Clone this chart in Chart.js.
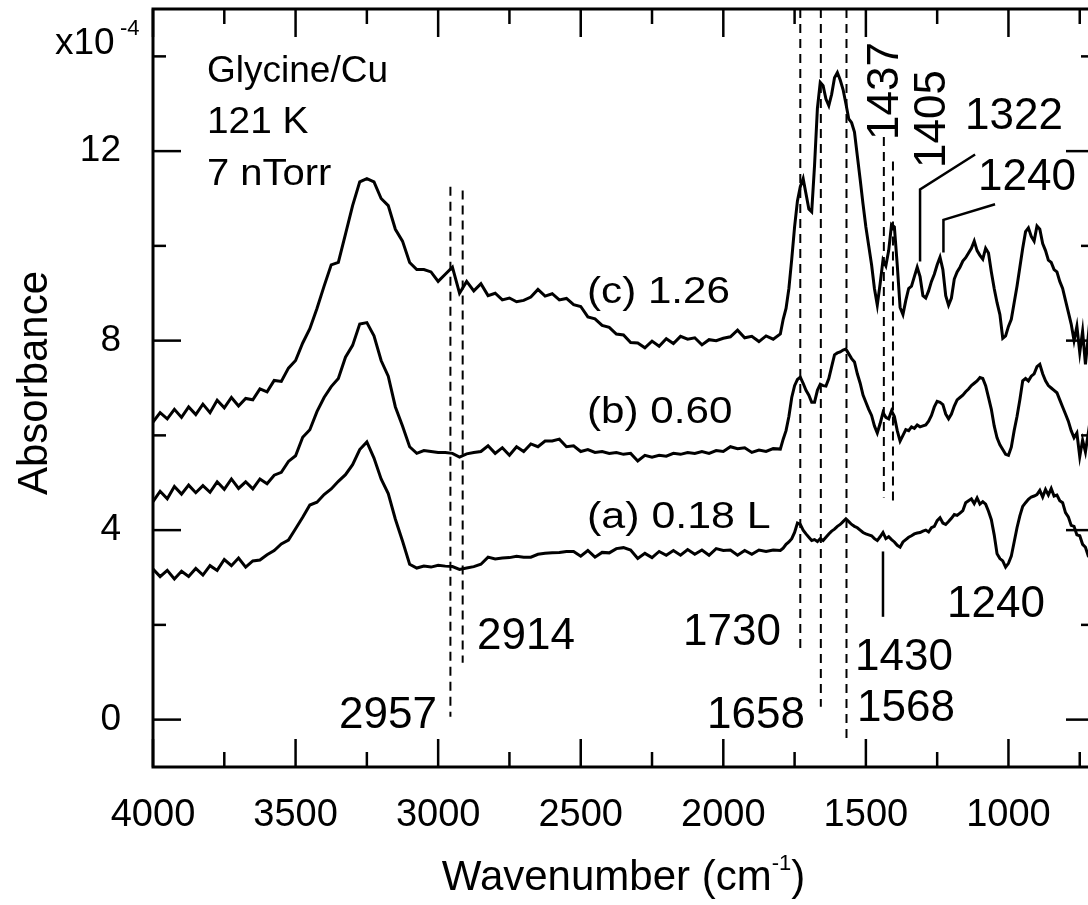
<!DOCTYPE html>
<html>
<head>
<meta charset="utf-8">
<script src="https://cdn.jsdelivr.net/npm/chart.js@4.4.1/dist/chart.umd.min.js"></script>
<style>
html, body { margin: 0; padding: 0; background: #fff; overflow: hidden; }
#wrap { width: 1100px; height: 905px; }
</style>
</head>
<body>
<div id="wrap"><canvas id="spectra" width="1100" height="905"></canvas></div>
<script>
const FONT = '"Liberation Sans", Arial, Helvetica, sans-serif';

// wavenumber grid (cm-1): 25 steps down to 1800, then 10 steps to 700
const wavenumbers = [
  4000,3975,3950,3925,3900,3875,3850,3825,3800,3775,
  3750,3725,3700,3675,3650,3625,3600,3575,3550,3525,
  3500,3475,3450,3425,3400,3375,3350,3325,3300,3275,
  3250,3225,3200,3175,3150,3125,3100,3075,3050,3025,
  3000,2975,2950,2925,2900,2875,2850,2825,2800,2775,
  2750,2725,2700,2675,2650,2625,2600,2575,2550,2525,
  2500,2475,2450,2425,2400,2375,2350,2325,2300,2275,
  2250,2225,2200,2175,2150,2125,2100,2075,2050,2025,
  2000,1975,1950,1925,1900,1875,1850,1825,1800,
  1790,1780,1770,1760,1750,1740,1730,1720,1710,1700,
  1690,1680,1670,1660,1650,1640,1630,1620,1610,1600,
  1590,1580,1570,1560,1550,1540,1530,1520,1510,1500,
  1490,1480,1470,1460,1450,1440,1430,1420,1410,1400,
  1390,1380,1370,1360,1350,1340,1330,1320,1310,1300,
  1290,1280,1270,1260,1250,1240,1230,1220,1210,1200,
  1190,1180,1170,1160,1150,1140,1130,1120,1110,1100,
  1090,1080,1070,1060,1050,1040,1030,1020,1010,1000,
  990,980,970,960,950,940,930,920,910,900,
  890,880,870,860,850,840,830,820,810,800,
  790,780,770,760,750,740,730,720,710,700
];

// (a) 0.18 L, absorbance x10^-4
const spectrumA = [
  3.18,3.02,3.15,2.97,3.13,3.02,3.19,3.05,3.25,3.15,
  3.38,3.25,3.41,3.22,3.35,3.37,3.48,3.57,3.71,3.79,
  4.03,4.27,4.53,4.59,4.75,4.87,5.03,5.17,5.38,5.70,
  5.86,5.52,5.08,4.77,4.23,3.77,3.28,3.20,3.24,3.22,
  3.26,3.24,3.23,3.17,3.20,3.23,3.28,3.43,3.39,3.41,
  3.42,3.45,3.43,3.43,3.49,3.51,3.52,3.53,3.55,3.55,
  3.45,3.57,3.43,3.53,3.52,3.61,3.63,3.58,3.40,3.51,
  3.42,3.55,3.47,3.57,3.47,3.59,3.49,3.58,3.47,3.61,
  3.57,3.58,3.47,3.57,3.49,3.58,3.55,3.58,3.57,
  3.62,3.70,3.75,3.82,3.95,4.15,4.12,4.00,3.92,3.85,
  3.78,3.80,3.76,3.82,3.78,3.85,3.92,3.98,4.02,4.08,
  4.12,4.18,4.24,4.18,4.12,4.08,4.05,4.00,3.95,3.92,
  3.90,3.88,3.82,3.78,3.86,3.95,3.82,3.86,3.80,3.75,
  3.68,3.64,3.75,3.80,3.85,3.88,3.92,3.94,3.95,3.98,
  4.00,3.96,4.05,4.08,4.20,4.26,4.15,4.12,4.18,4.25,
  4.33,4.31,4.36,4.41,4.58,4.62,4.66,4.56,4.68,4.55,
  4.60,4.55,4.40,4.22,3.90,3.50,3.40,3.35,3.22,3.30,
  3.45,3.75,4.05,4.30,4.50,4.58,4.65,4.70,4.72,4.75,
  4.84,4.70,4.86,4.74,4.88,4.72,4.74,4.62,4.58,4.37,
  4.28,4.10,4.08,3.90,3.88,3.70,3.64,3.45,3.43,3.32
];

// (b) 0.60
const spectrumB = [
  4.60,4.82,4.66,4.92,4.76,4.95,4.79,4.94,4.80,5.02,
  4.86,5.08,4.88,5.02,4.87,5.08,4.98,5.16,5.22,5.45,
  5.57,5.96,6.12,6.50,6.80,7.03,7.20,7.65,7.90,8.35,
  8.38,8.10,7.58,7.25,6.60,6.20,5.76,5.62,5.68,5.66,
  5.64,5.64,5.62,5.54,5.61,5.64,5.66,5.78,5.62,5.74,
  5.58,5.76,5.66,5.82,5.76,5.88,5.88,5.92,5.76,5.78,
  5.66,5.70,5.64,5.66,5.62,5.64,5.60,5.62,5.46,5.58,
  5.54,5.58,5.56,5.62,5.60,5.64,5.62,5.66,5.62,5.68,
  5.66,5.76,5.72,5.74,5.64,5.69,5.66,5.72,5.71,
  5.92,6.10,6.40,6.80,7.05,7.18,7.23,7.10,6.95,6.85,
  6.70,6.70,6.95,7.08,7.05,7.04,7.20,7.45,7.70,7.74,
  7.76,7.80,7.82,7.72,7.62,7.55,7.30,7.10,6.85,6.70,
  6.55,6.42,6.20,6.05,6.25,6.48,6.38,6.35,6.52,6.40,
  6.10,5.88,6.00,6.12,6.10,6.18,6.15,6.22,6.18,6.20,
  6.22,6.30,6.42,6.60,6.72,6.70,6.65,6.45,6.35,6.45,
  6.62,6.75,6.80,6.85,6.92,6.98,7.05,7.10,7.15,7.22,
  7.20,7.05,6.80,6.55,6.20,5.95,5.80,5.70,5.60,5.58,
  5.75,6.10,6.40,6.75,7.15,7.20,7.15,7.25,7.30,7.45,
  7.50,7.30,7.15,7.05,7.00,6.95,6.90,6.75,6.60,6.45,
  6.30,6.10,5.95,6.05,5.55,5.90,5.65,6.05,5.70,5.85
];

// (c) 1.26
const spectrumC = [
  6.28,6.48,6.35,6.55,6.38,6.60,6.44,6.66,6.48,6.74,
  6.58,6.80,6.62,6.78,6.75,6.98,6.92,7.16,7.14,7.42,
  7.58,7.95,8.25,8.68,9.15,9.60,9.65,10.25,10.85,11.35,
  11.42,11.35,11.00,10.85,10.35,10.10,9.65,9.50,9.50,9.45,
  9.25,9.40,9.55,9.00,9.25,9.05,9.20,8.95,9.00,8.86,
  8.90,8.82,8.85,8.92,9.08,8.94,8.99,8.86,8.89,8.76,
  8.72,8.50,8.46,8.32,8.28,8.14,8.12,7.96,7.95,7.85,
  7.99,7.88,8.04,7.94,8.09,8.03,8.06,7.91,8.02,8.00,
  8.05,8.08,8.22,8.06,8.09,7.98,8.10,8.03,8.14,
  8.45,8.68,9.10,9.72,10.40,10.95,11.25,11.42,11.10,10.78,
  10.72,11.70,12.90,13.45,13.38,13.10,12.96,13.20,13.55,13.66,
  13.50,13.30,13.00,12.68,12.60,12.40,11.90,11.40,10.88,10.40,
  10.00,9.60,9.10,8.75,9.20,9.70,9.58,9.90,10.45,10.40,
  9.60,8.70,8.55,8.85,9.10,9.15,9.35,9.55,9.35,8.95,
  8.90,9.05,9.25,9.40,9.60,9.76,9.50,8.95,8.75,8.90,
  9.30,9.45,9.55,9.68,9.75,9.85,9.95,10.10,9.90,9.80,
  9.72,9.95,9.85,9.45,9.10,8.80,8.55,8.05,8.10,8.30,
  8.45,8.80,9.15,9.55,9.95,10.30,10.38,10.20,10.10,10.42,
  10.35,10.05,9.90,9.70,9.65,9.50,9.45,9.25,9.10,8.85,
  8.60,8.35,8.00,8.30,7.75,8.20,7.50,8.10,7.60,7.90
];

const xLabelTicks = [4000, 3500, 3000, 2500, 2000, 1500, 1000];
const xMinorTicks = [3750, 3250, 2750, 2250, 1750, 1250, 750];
const yLabelTicks = [0, 4, 8, 12];
const yMinorTicks = [2, 6, 10, 14];

function toPoints(values) {
  return values.map((v, i) => ({ x: wavenumbers[i], y: v }));
}

// stretch > 1 widens the text horizontally
function drawText(ctx, str, x, y, size, align, rot, stretch) {
  ctx.save();
  ctx.translate(x, y);
  if (rot) ctx.rotate(rot);
  if (stretch) ctx.scale(stretch, 1);
  ctx.font = size + 'px ' + FONT;
  ctx.textAlign = align || 'left';
  ctx.textBaseline = 'alphabetic';
  ctx.fillText(str, 0, 0);
  ctx.restore();
}

const annotate = {
  id: 'annotate',
  afterDraw(chart) {
    const { ctx, chartArea: a, scales } = chart;
    const px = v => scales.x.getPixelForValue(v);
    const py = v => scales.y.getPixelForValue(v);
    const line = pts => {
      ctx.beginPath();
      pts.forEach((p, i) => i ? ctx.lineTo(p[0], p[1]) : ctx.moveTo(p[0], p[1]));
      ctx.stroke();
    };
    ctx.save();
    ctx.strokeStyle = '#000';
    ctx.fillStyle = '#000';
    ctx.lineCap = 'butt';

    // box
    ctx.lineWidth = 3;
    ctx.strokeRect(a.left, a.top, a.right - a.left, a.bottom - a.top);

    // inward ticks on all four sides
    ctx.lineWidth = 2.5;
    xLabelTicks.forEach(v => { const p = px(v); line([[p, a.bottom], [p, a.bottom - 28]]); line([[p, a.top], [p, a.top + 28]]); });
    xMinorTicks.forEach(v => { const p = px(v); line([[p, a.bottom], [p, a.bottom - 15]]); line([[p, a.top], [p, a.top + 15]]); });
    yLabelTicks.forEach(v => { const p = py(v); line([[a.left, p], [a.left + 28, p]]); line([[a.right, p], [a.right - 28, p]]); });
    yMinorTicks.forEach(v => { const p = py(v); line([[a.left, p], [a.left + 13, p]]); line([[a.right, p], [a.right - 13, p]]); });

    // dashed peak markers
    ctx.lineWidth = 2;
    ctx.setLineDash([9, 6]);
    [[2957, 11.25, 0.06], [2914, 11.17, 1.2], [1730, 15, 1.5], [1658, 15, 0.27],
     [1568, 15, -0.46], [1437, 12.3, 4.69], [1405, 11.78, 4.52]]
      .forEach(m => line([[px(m[0]), py(m[1])], [px(m[0]), py(m[2])]]));
    ctx.setLineDash([]);

    // solid leader lines
    ctx.lineWidth = 2.5;
    line([[px(1440), py(3.55)], [px(1440), py(2.17)]]);
    line([[px(1310), py(9.67)], [px(1310), py(11.19)], [px(1117), py(11.93)]]);
    line([[px(1228), py(9.86)], [px(1228), py(10.55)], [px(1047), py(10.88)]]);

    // text
    drawText(ctx, 'Glycine/Cu', 207, 82, 37);
    drawText(ctx, '121 K', 207, 133, 37, 'left', 0, 1.05);
    drawText(ctx, '7 nTorr', 207, 185, 37, 'left', 0, 1.08);
    drawText(ctx, '(c) 1.26', 587, 303, 37, 'left', 0, 1.14);
    drawText(ctx, '(b) 0.60', 587, 423, 37, 'left', 0, 1.14);
    drawText(ctx, '(a) 0.18 L', 587, 528, 37, 'left', 0, 1.16);
    drawText(ctx, '2957', 437, 728, 44, 'right');
    drawText(ctx, '2914', 477, 649, 44);
    drawText(ctx, '1730', 683, 645, 44);
    drawText(ctx, '1658', 707, 728, 44);
    drawText(ctx, '1430', 855, 670, 44);
    drawText(ctx, '1568', 857, 721, 44);
    drawText(ctx, '1240', 947, 617, 44);
    drawText(ctx, '1322', 965, 129, 44);
    drawText(ctx, '1240', 978, 190, 44);
    drawText(ctx, '1437', 898, 140, 44, 'left', -Math.PI / 2);
    drawText(ctx, '1405', 945, 168, 44, 'left', -Math.PI / 2);

    // y unit and axis titles
    drawText(ctx, 'x10', 55, 54, 37);
    drawText(ctx, '-4', 120, 35, 22);
    drawText(ctx, 'Absorbance', 47, 383, 42, 'center', -Math.PI / 2);

    ctx.font = '42px ' + FONT;
    const t1 = 'Wavenumber (cm', t3 = ')';
    const w1 = ctx.measureText(t1).width, w3 = ctx.measureText(t3).width;
    ctx.font = '22px ' + FONT;
    const w2 = ctx.measureText('-1').width;
    let sx = (a.left + a.right) / 2 - (w1 + w2 + w3) / 2;
    drawText(ctx, t1, sx, 890, 42);
    drawText(ctx, '-1', sx + w1, 870, 22);
    drawText(ctx, t3, sx + w1 + w2, 890, 42);

    ctx.restore();
  }
};

const style = { borderColor: '#000', borderWidth: 3, pointRadius: 0, tension: 0, fill: false };

new Chart(document.getElementById('spectra').getContext('2d'), {
  type: 'line',
  data: {
    datasets: [
      Object.assign({ label: '(a) 0.18 L', data: toPoints(spectrumA) }, style),
      Object.assign({ label: '(b) 0.60', data: toPoints(spectrumB) }, style),
      Object.assign({ label: '(c) 1.26', data: toPoints(spectrumC) }, style)
    ]
  },
  options: {
    responsive: false,
    animation: false,
    devicePixelRatio: 1,
    layout: { padding: { top: 9, right: 6, left: 0, bottom: 0 } },
    plugins: { legend: { display: false }, tooltip: { enabled: false } },
    scales: {
      x: {
        type: 'linear', reverse: true, min: 700, max: 4000,
        grid: { display: false, drawTicks: false }, border: { display: false },
        ticks: { color: '#000', font: { family: FONT, size: 38 }, padding: 26,
                 maxRotation: 0, autoSkip: false, callback: v => String(v) },
        afterBuildTicks: s => { s.ticks = xLabelTicks.map(v => ({ value: v })); },
        afterFit: s => { s.height = 138; s.paddingLeft = 0; s.paddingRight = 0; }
      },
      y: {
        type: 'linear', min: -1, max: 15,
        grid: { display: false, drawTicks: false }, border: { display: false },
        ticks: { color: '#000', font: { family: FONT, size: 37 }, padding: 32,
                 callback: v => String(v) },
        afterBuildTicks: s => { s.ticks = yLabelTicks.map(v => ({ value: v })); },
        afterFit: s => { s.width = 153; s.paddingTop = 0; s.paddingBottom = 0; }
      }
    }
  },
  plugins: [annotate]
});
</script>
</body>
</html>
